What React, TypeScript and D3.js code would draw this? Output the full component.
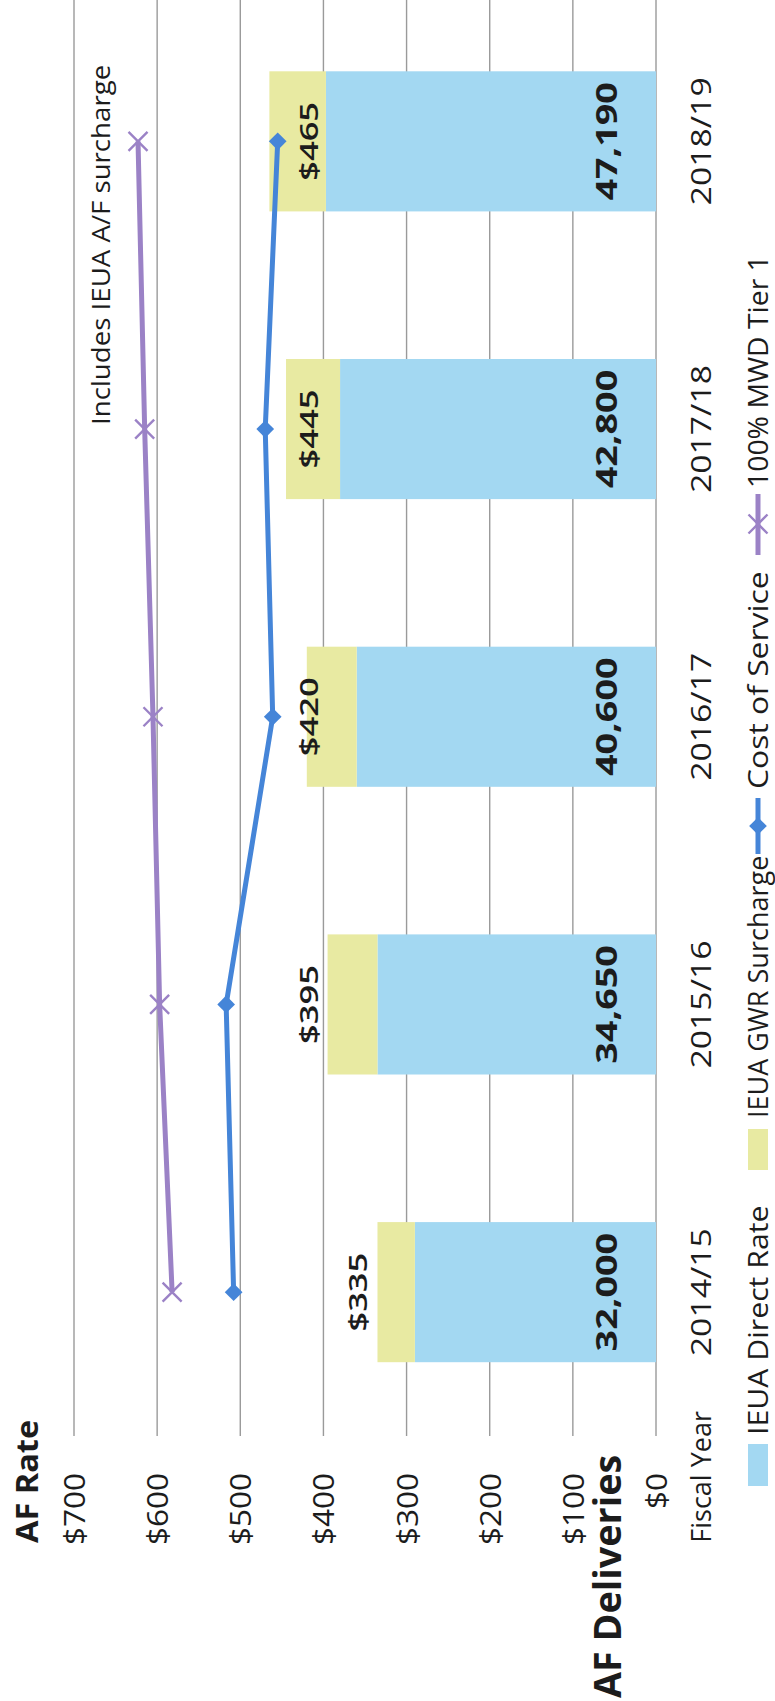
import React from 'react';
import * as d3 from 'd3';

const categories = ['2014/15', '2015/16', '2016/17', '2017/18', '2018/19'];
const directRate = [290, 335, 360, 380, 397];
const gwrSurcharge = [45, 60, 60, 65, 68];
const deliveries = [32000, 34650, 40600, 42800, 47190];
const costOfService = [508, 517, 461, 470, 455];
const mwdTier1 = [582, 597, 605, 615, 623];
const rateTicks = [0, 100, 200, 300, 400, 500, 600, 700];
const totalLabelInside = [false, false, true, true, true];

const W = 775;
const H = 1701;
const FONT = "'Open Sans', 'DejaVu Sans', sans-serif";
const TEXT = '#1c1c1c';
const BLUE_BAR = '#a3d8f2';
const YELLOW_BAR = '#e8eaa2';
const BLUE_LINE = '#4585d8';
const PURPLE_LINE = '#9b82c6';
const GRID = '#9a9a9a';

type RTProps = {
  x: number; y: number; anchor?: string; fs: number; sx?: number; weight?: number | string; fill?: string; children: React.ReactNode;
};
// Text rotated 90deg counter-clockwise, reading bottom to top; x is the baseline position.
function RText({ x, y, anchor = 'start', fs, sx = 1, weight = 400, fill = TEXT, children }: RTProps) {
  return (
    <text
      transform={`translate(${x},${y}) rotate(-90) scale(${sx},1)`}
      textAnchor={anchor}
      fontSize={fs}
      fontWeight={weight}
      fontFamily={FONT}
      fill={fill}
    >
      {children}
    </text>
  );
}

export default function App() {
  const xRate = d3.scaleLinear().domain([0, 700]).range([656, 74]);
  const yCat = d3.scaleBand<string>().domain(categories).range([1436, -2.5]).paddingInner(0.513).paddingOuter(0.2565);
  const bw = yCat.bandwidth();
  const cy = (c: string) => (yCat(c) as number) + bw / 2;
  const fmtK = d3.format(',');

  const lineGen = d3
    .line<number>()
    .x((d) => xRate(d))
    .y((_, i) => cy(categories[i]));

  const diamond = d3.symbol().type(d3.symbolDiamond2).size(200)();
  const xMark = (cx: number, cyy: number, r: number) =>
    `M${cx - r},${cyy - r}L${cx + r},${cyy + r}M${cx - r},${cyy + r}L${cx + r},${cyy - r}`;

  const INSIDE_LABEL_AT = 407;

  return (
    <div style={{ position: 'absolute', left: 0, top: 0 }}>
      <svg width={W} height={H} viewBox={`0 0 ${W} ${H}`} style={{ display: 'block', background: '#fff' }}>
        <rect x={0} y={0} width={W} height={H} fill="#fff" />
        {/* gridlines */}
        {rateTicks.map((t) => (
          <line key={t} x1={xRate(t)} x2={xRate(t)} y1={0} y2={1436} stroke={GRID} strokeWidth={1.4} />
        ))}
        {/* bars */}
        {categories.map((c, i) => {
          const total = directRate[i] + gwrSurcharge[i];
          return (
            <g key={c}>
              <rect x={xRate(directRate[i])} y={yCat(c)} width={xRate(0) - xRate(directRate[i])} height={bw} fill={BLUE_BAR} />
              <rect x={xRate(total)} y={yCat(c)} width={xRate(directRate[i]) - xRate(total)} height={bw} fill={YELLOW_BAR} />
            </g>
          );
        })}
        {/* lines */}
        <path d={lineGen(mwdTier1) || ''} fill="none" stroke={PURPLE_LINE} strokeWidth={5} strokeLinejoin="round" />
        {mwdTier1.map((v, i) => (
          <path key={i} d={xMark(xRate(v), cy(categories[i]), 9.5)} stroke={PURPLE_LINE} strokeWidth={2.4} fill="none" />
        ))}
        <path d={lineGen(costOfService) || ''} fill="none" stroke={BLUE_LINE} strokeWidth={5} strokeLinejoin="round" />
        {costOfService.map((v, i) => (
          <path key={i} d={diamond || ''} transform={`translate(${xRate(v)},${cy(categories[i])})`} fill={BLUE_LINE} />
        ))}
        {/* bar labels */}
        {categories.map((c, i) => {
          const total = directRate[i] + gwrSurcharge[i];
          const bx = totalLabelInside[i] ? xRate(INSIDE_LABEL_AT) : xRate(total) - 10;
          return (
            <g key={c}>
              <RText x={bx} y={cy(c)} anchor="middle" fs={25} sx={1.38} weight={600}>{`$${total}`}</RText>
              <RText x={xRate(0) - 39} y={cy(c)} anchor="middle" fs={29} sx={1.3} weight={700}>{fmtK(deliveries[i])}</RText>
              <RText x={711} y={cy(c)} anchor="middle" fs={27} sx={1.25}>{c}</RText>
            </g>
          );
        })}
        {/* value axis tick labels */}
        {rateTicks.map((t) => (
          <RText key={t} x={xRate(t) + 11} y={1473} anchor="end" fs={30} sx={1.05}>{`$${t}`}</RText>
        ))}
        <RText x={37.5} y={1543} fs={31} sx={1.05} weight={700}>AF Rate</RText>
        <RText x={621} y={1698} fs={37} sx={1.02} weight={700}>AF Deliveries</RText>
        <RText x={711} y={1411} anchor="end" fs={27} sx={1.0}>Fiscal Year</RText>
        {/* annotation */}
        <RText x={110} y={425} fs={25.6} sx={1.08}>Includes IEUA A/F surcharge</RText>
        {/* legend */}
        <rect x={748} y={1444} width={20} height={42} fill={BLUE_BAR} />
        <RText x={768} y={1435} fs={27} sx={1.12}>IEUA Direct Rate</RText>
        <rect x={748} y={1129} width={20} height={41} fill={YELLOW_BAR} />
        <RText x={768} y={1118} fs={27} sx={1.0}>IEUA GWR Surcharge</RText>
        <line x1={758} x2={758} y1={854} y2={798} stroke={BLUE_LINE} strokeWidth={5} />
        <path d={diamond || ''} transform="translate(758,826)" fill={BLUE_LINE} />
        <RText x={768} y={789} fs={27} sx={1.18}>Cost of Service</RText>
        <line x1={758} x2={758} y1={555} y2={494} stroke={PURPLE_LINE} strokeWidth={5} />
        <path d={xMark(758, 524, 9.5)} stroke={PURPLE_LINE} strokeWidth={2.4} fill="none" />
        <RText x={768} y={488} fs={27} sx={1.05}>100% MWD Tier 1</RText>
      </svg>
    </div>
  );
}
